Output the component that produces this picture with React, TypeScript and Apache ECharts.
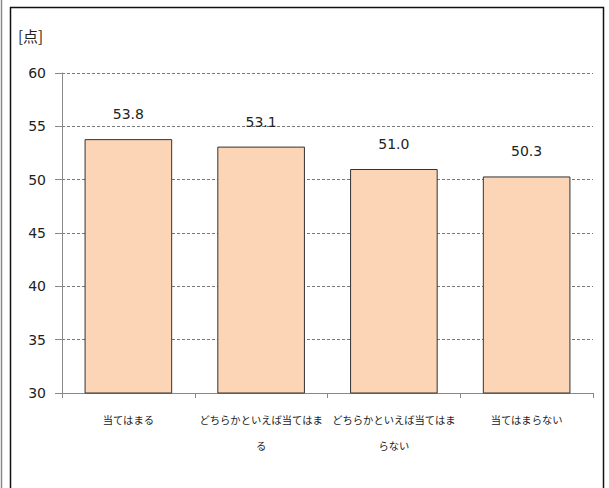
import React, { useEffect, useRef } from "react";
import * as echarts from "echarts";

const categories = ["当てはまる", "どちらかといえば当てはまる", "どちらかといえば当てはまらない", "当てはまらない"];
const values = [53.8, 53.1, 51.0, 50.3];
const yMin = 30;
const yMax = 60;
const yStep = 5;
const unitLabel = "[点]";

export default function App() {
  const ref = useRef<HTMLDivElement>(null);
  useEffect(() => {
    if (!ref.current) return;
    const chart = echarts.init(ref.current, null, { renderer: "svg" });
    const cjk = '"Noto Sans CJK JP", sans-serif';
    chart.setOption({
      animation: false,
      backgroundColor: "#ffffff",
      grid: { left: 62, right: 16, top: 73, bottom: 95 },
      graphic: [
        { type: "line", shape: { x1: 1.5, y1: 0, x2: 1.5, y2: 488 }, style: { stroke: "#888", lineWidth: 1.5 } },
        { type: "rect", shape: { x: 10.5, y: 7.5, width: 593, height: 500 }, style: { fill: "none", stroke: "#111", lineWidth: 1.5 } },
        { type: "text", left: 18, top: 28, style: { text: unitLabel, font: '15px "Noto Sans CJK JP"', fill: "#222" } },
      ],
      xAxis: {
        type: "category",
        data: categories,
        axisLine: { lineStyle: { color: "#888" } },
        axisTick: { show: true, length: 5, lineStyle: { color: "#888" } },
        axisLabel: {
          interval: 0,
          color: "#222",
          fontSize: 10.3,
          fontFamily: cjk,
          margin: 13,
          lineHeight: 26,
          formatter: (v: string) => (v.length > 12 ? v.slice(0, 12) + "\n" + v.slice(12) : v),
        },
      },
      yAxis: {
        type: "value",
        min: yMin,
        max: yMax,
        interval: yStep,
        axisLine: { show: true, lineStyle: { color: "#888" } },
        axisTick: { show: true, length: 7, lineStyle: { color: "#888" } },
        axisLabel: { color: "#222", fontSize: 14, fontFamily: '"DejaVu Sans", sans-serif', margin: 16 },
        splitLine: { show: true, lineStyle: { color: "#777", type: [3, 2], width: 1 } },
      },
      series: [
        {
          type: "bar",
          data: values,
          barWidth: "66%",
          itemStyle: { color: "#FBD5B5", borderColor: "#333", borderWidth: 1 },
          label: {
            show: true,
            position: "top",
            distance: 18,
            color: "#222",
            fontSize: 14,
            fontFamily: '"DejaVu Sans", sans-serif',
            formatter: (p: any) => p.value.toFixed(1),
          },
        },
      ],
    });
    return () => chart.dispose();
  }, []);
  return <div ref={ref} style={{ position: "fixed", left: 0, top: 0, width: 609, height: 488 }} />;
}
